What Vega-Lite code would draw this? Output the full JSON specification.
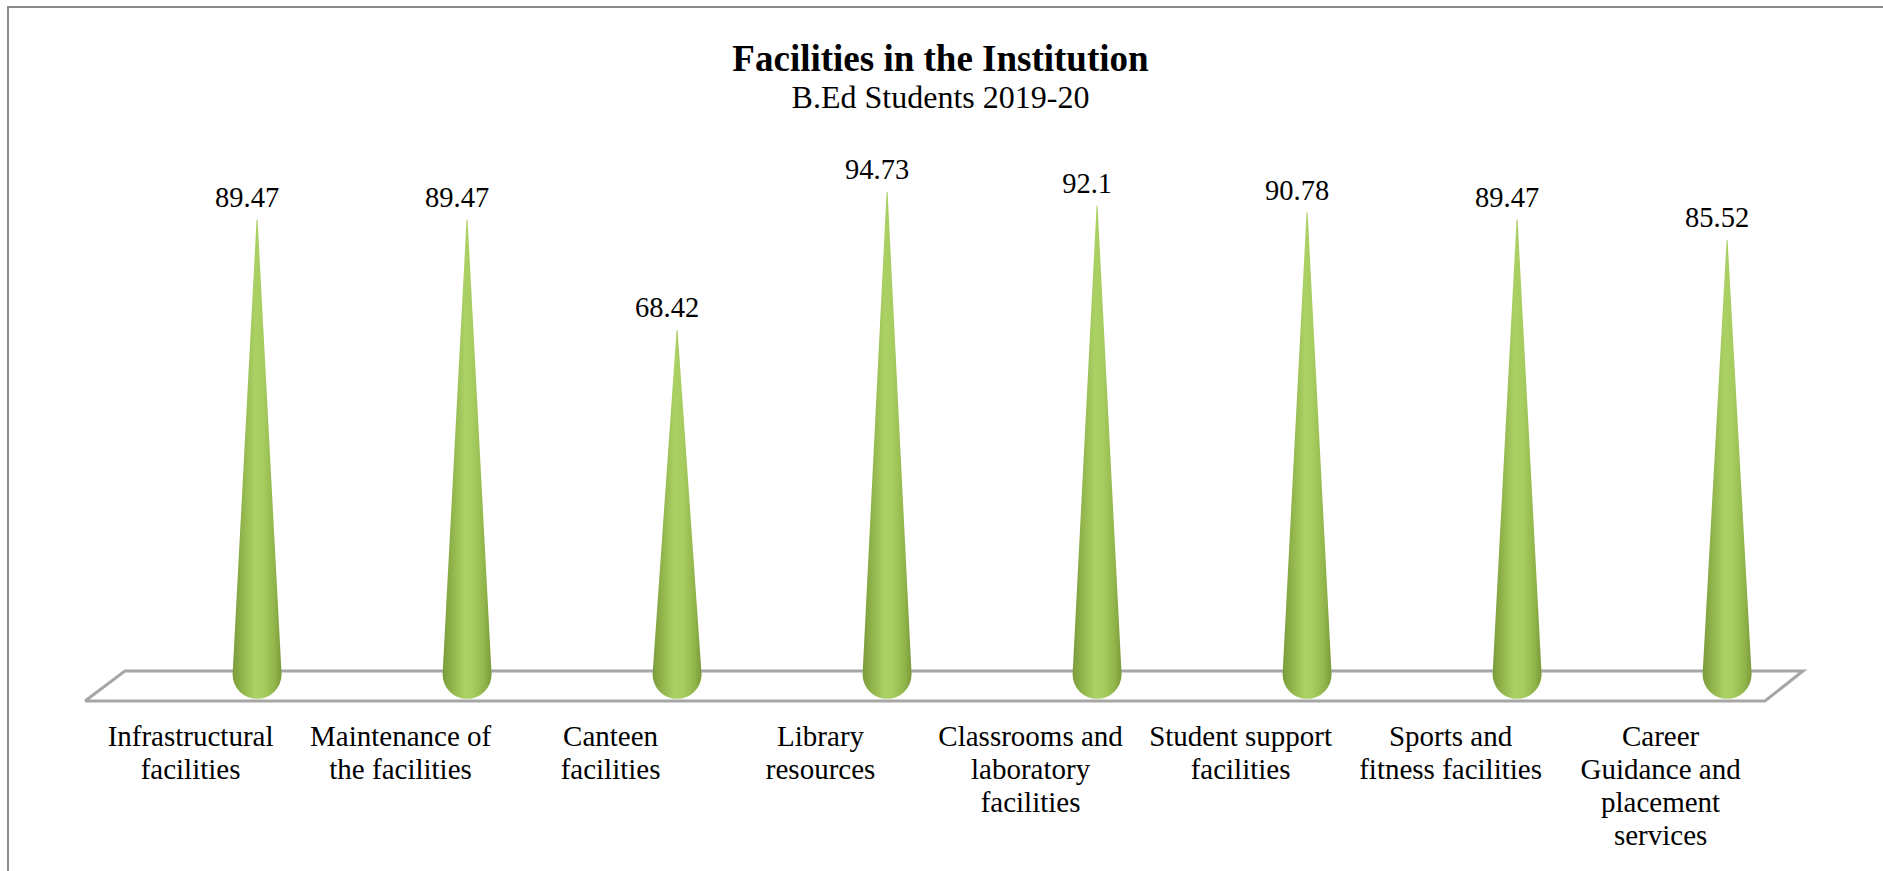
{
  "$schema": "https://vega.github.io/schema/vega-lite/v6.json",
  "width": 1877,
  "height": 866,
  "autosize": {"type": "none"},
  "padding": {"left": 8, "top": 7, "right": -2, "bottom": -2},
  "background": "white",
  "title": {
    "text": "Facilities in the Institution",
    "subtitle": "B.Ed Students 2019-20",
    "font": "Liberation Serif",
    "fontSize": 37,
    "fontWeight": "bold",
    "color": "black",
    "subtitleFont": "Liberation Serif",
    "subtitleFontSize": 32,
    "subtitleColor": "black",
    "subtitlePadding": 4,
    "anchor": "middle",
    "frame": "group",
    "dx": -6,
    "offset": -108
  },
  "config": {
    "view": {"stroke": "#8a8a8a", "strokeWidth": 2}
  },
  "datasets": {
    "facilities": [
      {"category": "Infrastructural\nfacilities", "score": 89.47},
      {"category": "Maintenance of\nthe facilities", "score": 89.47},
      {"category": "Canteen\nfacilities", "score": 68.42},
      {"category": "Library\nresources", "score": 94.73},
      {"category": "Classrooms and\nlaboratory\nfacilities", "score": 92.1},
      {"category": "Student support\nfacilities", "score": 90.78},
      {"category": "Sports and\nfitness facilities", "score": 89.47},
      {"category": "Career\nGuidance and\nplacement\nservices", "score": 85.52}
    ],
    "floor": [
      {"fx": -0.819, "fy": -2.29, "o": 1},
      {"fx": -0.629, "fy": 3.43, "o": 2},
      {"fx": 7.362, "fy": 3.43, "o": 3},
      {"fx": 7.181, "fy": -2.29, "o": 4},
      {"fx": -0.819, "fy": -2.29, "o": 5}
    ]
  },
  "resolve": {"scale": {"x": "independent"}, "axis": {"x": "independent"}},
  "layer": [
    {
      "data": {"name": "floor"},
      "mark": {"type": "line", "stroke": "#a6a6a6", "strokeWidth": 3, "strokeJoin": "miter"},
      "encoding": {
        "x": {"field": "fx", "type": "quantitative", "axis": null,
              "scale": {"domain": [-1.1857, 7.7524], "nice": false, "zero": false}},
        "y": {"field": "fy", "type": "quantitative", "axis": null,
              "scale": {"domain": [-35.08, 130.03], "nice": false, "zero": false}},
        "order": {"field": "o", "type": "quantitative"}
      }
    },
    {
      "data": {"name": "facilities"},
      "layer": [
        {
          "transform": [
            {"calculate": "2.8", "as": "base"},
            {"fold": ["base", "score"], "as": ["part", "v"]}
          ],
          "mark": {
            "type": "trail",
            "fill": {
              "gradient": "linear",
              "x1": 0, "y1": 0, "x2": 1, "y2": 0,
              "stops": [
                {"offset": 0, "color": "#7b9b3b"},
                {"offset": 0.22, "color": "#93b74d"},
                {"offset": 0.45, "color": "#abd064"},
                {"offset": 0.62, "color": "#a7cc5f"},
                {"offset": 0.85, "color": "#92b64b"},
                {"offset": 1, "color": "#7a9a39"}
              ]
            },
            "color": "#9bbb59"
          },
          "encoding": {
            "x": {"field": "category", "type": "nominal", "sort": null,
                  "scale": {"type": "point", "padding": 0.969, "align": 0.612},
                  "axis": {
                    "title": null, "domain": false, "ticks": false,
                    "labelAngle": 0, "labelAlign": "center", "labelBaseline": "top",
                    "labelFont": "Liberation Serif", "labelFontSize": 29, "labelColor": "black",
                    "labelLineHeight": 33, "labelOffset": -67, "labelPadding": 0,
                    "labelLimit": 400, "labelOverlap": false, "labelBound": false,
                    "offset": -151,
                    "labelExpr": "split(datum.value, '\\n')"
                  }},
            "y": {"field": "v", "type": "quantitative", "axis": null,
                  "scale": {"domain": [-35.08, 130.03], "nice": false, "zero": false}},
            "size": {"field": "part", "type": "ordinal", "legend": null,
                     "scale": {"domain": ["base", "score"], "range": [49, 0]}},
            "detail": {"field": "category", "type": "nominal"}
          }
        },
        {
          "mark": {"type": "text", "font": "Liberation Serif", "fontSize": 28.5, "color": "black",
                   "align": "center", "baseline": "alphabetic", "dy": -13, "dx": -10},
          "encoding": {
            "x": {"field": "category", "type": "nominal", "sort": null},
            "y": {"field": "score", "type": "quantitative",
                  "scale": {"domain": [-35.08, 130.03], "nice": false, "zero": false}},
            "text": {"field": "score", "type": "nominal"}
          }
        }
      ]
    }
  ]
}
